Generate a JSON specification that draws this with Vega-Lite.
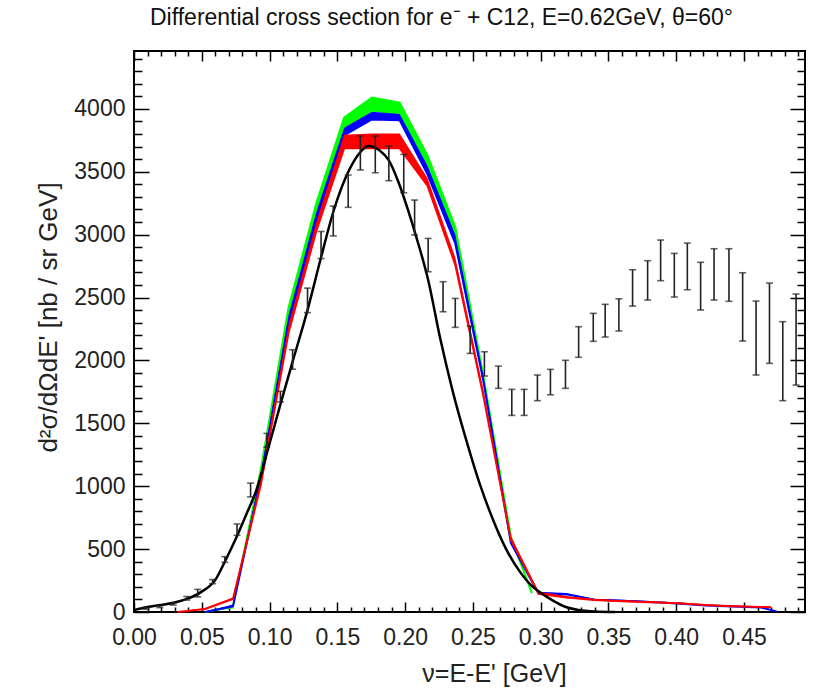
{
  "$schema": "https://vega.github.io/schema/vega-lite/v6.json",
  "width": 671,
  "height": 561,
  "autosize": "none",
  "padding": {"left": 134, "top": 51, "right": 11, "bottom": 78},
  "background": "white",
  "config": {"view": {"stroke": "black", "strokeWidth": 2}, "font": "Liberation Sans"},
  "title": {"text": "Differential cross section for e⁻ + C12, E=0.62GeV, θ=60°", "font": "Liberation Sans", "fontSize": 23, "fontWeight": "normal", "anchor": "start", "frame": "group", "dx": 16, "offset": 18, "color": "#111"},
  "resolve": {"axis": {"x": "independent", "y": "independent"}},
  "datasets": {
    "green": [
      {"x": 0.0525, "lo": 0, "hi": 0}, {"x": 0.073, "lo": 28, "hi": 45}, {"x": 0.0935, "lo": 1080, "hi": 1130},
      {"x": 0.114, "lo": 2330, "hi": 2420}, {"x": 0.1345, "lo": 3150, "hi": 3250}, {"x": 0.155, "lo": 3830, "hi": 3930},
      {"x": 0.1755, "lo": 3980, "hi": 4090}, {"x": 0.196, "lo": 3950, "hi": 4050}, {"x": 0.2165, "lo": 3550, "hi": 3630},
      {"x": 0.237, "lo": 2980, "hi": 3060}, {"x": 0.2575, "lo": 1840, "hi": 1890}, {"x": 0.278, "lo": 570, "hi": 600},
      {"x": 0.2935, "lo": 140, "hi": 150}
    ],
    "blue": [
      {"x": 0.0525, "lo": 0, "hi": 0}, {"x": 0.073, "lo": 45, "hi": 60}, {"x": 0.0935, "lo": 1060, "hi": 1100},
      {"x": 0.114, "lo": 2300, "hi": 2360}, {"x": 0.1345, "lo": 3100, "hi": 3180}, {"x": 0.155, "lo": 3790, "hi": 3850},
      {"x": 0.1755, "lo": 3916, "hi": 3977}, {"x": 0.196, "lo": 3910, "hi": 3960}, {"x": 0.2165, "lo": 3480, "hi": 3550},
      {"x": 0.237, "lo": 2930, "hi": 3000}, {"x": 0.2575, "lo": 1850, "hi": 1890}, {"x": 0.278, "lo": 550, "hi": 580},
      {"x": 0.2985, "lo": 145, "hi": 160}, {"x": 0.319, "lo": 140, "hi": 152}, {"x": 0.3395, "lo": 98, "hi": 106},
      {"x": 0.36, "lo": 90, "hi": 98}, {"x": 0.3805, "lo": 80, "hi": 88}, {"x": 0.401, "lo": 68, "hi": 76},
      {"x": 0.4215, "lo": 52, "hi": 58}, {"x": 0.442, "lo": 44, "hi": 50}, {"x": 0.4625, "lo": 36, "hi": 42},
      {"x": 0.474, "lo": 5, "hi": 10}
    ],
    "red": [
      {"x": 0.032, "lo": 0, "hi": 0}, {"x": 0.0525, "lo": 24, "hi": 32}, {"x": 0.073, "lo": 104, "hi": 116},
      {"x": 0.0935, "lo": 1010, "hi": 1050}, {"x": 0.114, "lo": 2220, "hi": 2280}, {"x": 0.1345, "lo": 3030, "hi": 3100},
      {"x": 0.155, "lo": 3686, "hi": 3795}, {"x": 0.1755, "lo": 3686, "hi": 3805}, {"x": 0.196, "lo": 3686, "hi": 3805},
      {"x": 0.2165, "lo": 3390, "hi": 3450}, {"x": 0.237, "lo": 2760, "hi": 2820}, {"x": 0.2575, "lo": 1730, "hi": 1780},
      {"x": 0.278, "lo": 575, "hi": 605}, {"x": 0.2985, "lo": 145, "hi": 160}, {"x": 0.319, "lo": 115, "hi": 128},
      {"x": 0.3395, "lo": 95, "hi": 104}, {"x": 0.36, "lo": 86, "hi": 94}, {"x": 0.3805, "lo": 78, "hi": 86},
      {"x": 0.401, "lo": 70, "hi": 78}, {"x": 0.4215, "lo": 55, "hi": 62}, {"x": 0.442, "lo": 46, "hi": 52},
      {"x": 0.4625, "lo": 40, "hi": 46}, {"x": 0.47, "lo": 38, "hi": 44}
    ],
    "black": [
      {"x": 0.0, "y": 15}, {"x": 0.01, "y": 40}, {"x": 0.02, "y": 56}, {"x": 0.03, "y": 75}, {"x": 0.04, "y": 108},
      {"x": 0.05, "y": 162}, {"x": 0.06, "y": 255}, {"x": 0.067, "y": 400}, {"x": 0.075, "y": 580}, {"x": 0.083, "y": 780},
      {"x": 0.09, "y": 960}, {"x": 0.099, "y": 1300}, {"x": 0.108, "y": 1650}, {"x": 0.117, "y": 1990}, {"x": 0.128, "y": 2400},
      {"x": 0.138, "y": 2820}, {"x": 0.147, "y": 3180}, {"x": 0.156, "y": 3450}, {"x": 0.165, "y": 3630}, {"x": 0.173, "y": 3705},
      {"x": 0.181, "y": 3670}, {"x": 0.188, "y": 3590}, {"x": 0.195, "y": 3420}, {"x": 0.202, "y": 3200}, {"x": 0.208, "y": 2990},
      {"x": 0.217, "y": 2640}, {"x": 0.226, "y": 2170}, {"x": 0.235, "y": 1760}, {"x": 0.245, "y": 1370}, {"x": 0.255, "y": 1020},
      {"x": 0.265, "y": 730}, {"x": 0.275, "y": 490}, {"x": 0.285, "y": 315}, {"x": 0.293, "y": 212}, {"x": 0.3, "y": 153},
      {"x": 0.31, "y": 85}, {"x": 0.318, "y": 42}, {"x": 0.328, "y": 16}, {"x": 0.34, "y": 4}, {"x": 0.355, "y": 0}
    ],
    "exp": [
      {"x": 0.009, "lo": 22, "hi": 36}, {"x": 0.019, "lo": 35, "hi": 50}, {"x": 0.029, "lo": 55, "hi": 73},
      {"x": 0.039, "lo": 95, "hi": 123}, {"x": 0.047, "lo": 120, "hi": 180}, {"x": 0.058, "lo": 225, "hi": 258},
      {"x": 0.067, "lo": 395, "hi": 440}, {"x": 0.076, "lo": 610, "hi": 700}, {"x": 0.086, "lo": 915, "hi": 1025},
      {"x": 0.098, "lo": 1310, "hi": 1420}, {"x": 0.108, "lo": 1670, "hi": 1755}, {"x": 0.117, "lo": 1930, "hi": 2085},
      {"x": 0.128, "lo": 2380, "hi": 2575}, {"x": 0.138, "lo": 2810, "hi": 3025}, {"x": 0.147, "lo": 2990, "hi": 3227},
      {"x": 0.158, "lo": 3217, "hi": 3474}, {"x": 0.167, "lo": 3514, "hi": 3784}, {"x": 0.178, "lo": 3492, "hi": 3784},
      {"x": 0.188, "lo": 3429, "hi": 3704}, {"x": 0.199, "lo": 3333, "hi": 3638}, {"x": 0.207, "lo": 2997, "hi": 3275},
      {"x": 0.217, "lo": 2705, "hi": 2970}, {"x": 0.228, "lo": 2387, "hi": 2626}, {"x": 0.237, "lo": 2263, "hi": 2493},
      {"x": 0.248, "lo": 2056, "hi": 2273}, {"x": 0.2585, "lo": 1876, "hi": 2069}, {"x": 0.2688, "lo": 1778, "hi": 1955},
      {"x": 0.2787, "lo": 1563, "hi": 1770}, {"x": 0.2878, "lo": 1563, "hi": 1770}, {"x": 0.2976, "lo": 1680, "hi": 1884},
      {"x": 0.3072, "lo": 1727, "hi": 1929}, {"x": 0.3183, "lo": 1778, "hi": 2001}, {"x": 0.328, "lo": 2025, "hi": 2268},
      {"x": 0.3388, "lo": 2152, "hi": 2374}, {"x": 0.3476, "lo": 2186, "hi": 2446}, {"x": 0.3577, "lo": 2234, "hi": 2490},
      {"x": 0.3678, "lo": 2432, "hi": 2721}, {"x": 0.3789, "lo": 2480, "hi": 2793}, {"x": 0.3885, "lo": 2634, "hi": 2957},
      {"x": 0.3986, "lo": 2504, "hi": 2851}, {"x": 0.4082, "lo": 2562, "hi": 2933}, {"x": 0.418, "lo": 2401, "hi": 2780},
      {"x": 0.4279, "lo": 2480, "hi": 2888}, {"x": 0.4389, "lo": 2470, "hi": 2888}, {"x": 0.449, "lo": 2154, "hi": 2697},
      {"x": 0.4589, "lo": 1884, "hi": 2472}, {"x": 0.4688, "lo": 1977, "hi": 2615}, {"x": 0.4786, "lo": 1680, "hi": 2308},
      {"x": 0.4884, "lo": 1804, "hi": 2528}
    ]
  },
  "layer": [
    {
      "data": {"name": "green"},
      "mark": {"type": "area", "color": "#00ff00", "opacity": 1},
      "encoding": {
        "x": {"field": "x", "type": "quantitative", "scale": {"domain": [0, 0.495], "nice": false, "zero": false},
          "axis": {"orient": "bottom", "title": "ν=E-E' [GeV]", "values": [0,0.01,0.02,0.03,0.04,0.05,0.06,0.07,0.08,0.09,0.1,0.11,0.12,0.13,0.14,0.15,0.16,0.17,0.18,0.19,0.2,0.21,0.22,0.23,0.24,0.25,0.26,0.27,0.28,0.29,0.3,0.31,0.32,0.33,0.34,0.35,0.36,0.37,0.38,0.39,0.4,0.41,0.42,0.43,0.44,0.45,0.46,0.47,0.48,0.49],
            "labelExpr": "round(datum.value*100) % 5 == 0 ? format(datum.value, '.2f') : ''",
            "tickSize": {"condition": {"test": "round(datum.value*100) % 5 == 0", "value": -10}, "value": -5},
            "tickColor": "black", "tickWidth": 1.5, "domain": false, "grid": false,
            "labelFont": "Liberation Sans", "labelFontSize": 23, "labelColor": "#222", "labelPadding": 24, "labelOverlap": false, "labelFlush": false,
            "titleFont": "Liberation Sans", "titleFontSize": 25, "titleFontWeight": "normal", "titleColor": "#222", "titlePadding": 7, "titleX": 360}},
        "y": {"field": "lo", "type": "quantitative", "scale": {"domain": [0, 4460], "nice": false, "zero": false},
          "axis": {"orient": "left", "title": "d²σ/dΩdE' [nb / sr GeV]", "values": [0,100,200,300,400,500,600,700,800,900,1000,1100,1200,1300,1400,1500,1600,1700,1800,1900,2000,2100,2200,2300,2400,2500,2600,2700,2800,2900,3000,3100,3200,3300,3400,3500,3600,3700,3800,3900,4000,4100,4200,4300,4400],
            "labelExpr": "datum.value % 500 == 0 ? format(datum.value, 'd') : ''",
            "tickSize": {"condition": {"test": "datum.value % 500 == 0", "value": -15}, "value": -8},
            "tickColor": "black", "tickWidth": 1.5, "domain": false, "grid": false,
            "labelFont": "Liberation Sans", "labelFontSize": 23, "labelColor": "#222", "labelPadding": 24, "labelOverlap": false, "labelFlush": false,
            "titleFont": "Liberation Sans", "titleFontSize": 26, "titleFontWeight": "normal", "titleColor": "#222", "titlePadding": 12, "titleY": 266}},
        "y2": {"field": "hi"}
      }
    },
    {
      "data": {"name": "green"},
      "mark": {"type": "line", "color": "#00ff00", "strokeWidth": 2},
      "encoding": {"x": {"field": "x", "type": "quantitative", "axis": null}, "y": {"field": "hi", "type": "quantitative", "axis": null}}
    },
    {
      "data": {"name": "blue"},
      "mark": {"type": "area", "color": "#0000ff", "opacity": 1},
      "encoding": {"x": {"field": "x", "type": "quantitative", "axis": null}, "y": {"field": "lo", "type": "quantitative", "axis": null}, "y2": {"field": "hi"}}
    },
    {
      "data": {"name": "blue"},
      "mark": {"type": "line", "color": "#0000ff", "strokeWidth": 2},
      "encoding": {"x": {"field": "x", "type": "quantitative", "axis": null}, "y": {"field": "lo", "type": "quantitative", "axis": null}}
    },
    {
      "data": {"name": "red"},
      "mark": {"type": "area", "color": "#ff0000", "opacity": 1},
      "encoding": {"x": {"field": "x", "type": "quantitative", "axis": null}, "y": {"field": "lo", "type": "quantitative", "axis": null}, "y2": {"field": "hi"}}
    },
    {
      "data": {"name": "red"},
      "mark": {"type": "line", "color": "#ff0000", "strokeWidth": 2},
      "encoding": {"x": {"field": "x", "type": "quantitative", "axis": null}, "y": {"field": "lo", "type": "quantitative", "axis": null}}
    },
    {
      "data": {"name": "black"},
      "mark": {"type": "line", "color": "black", "strokeWidth": 2.5, "interpolate": "monotone"},
      "encoding": {
        "x": {"field": "x", "type": "quantitative",
          "axis": {"orient": "top", "title": null, "labels": false, "domain": false, "grid": false, "tickColor": "black", "tickWidth": 1.5,
            "values": [0,0.01,0.02,0.03,0.04,0.05,0.06,0.07,0.08,0.09,0.1,0.11,0.12,0.13,0.14,0.15,0.16,0.17,0.18,0.19,0.2,0.21,0.22,0.23,0.24,0.25,0.26,0.27,0.28,0.29,0.3,0.31,0.32,0.33,0.34,0.35,0.36,0.37,0.38,0.39,0.4,0.41,0.42,0.43,0.44,0.45,0.46,0.47,0.48,0.49],
            "tickSize": {"condition": {"test": "round(datum.value*100) % 5 == 0", "value": -10}, "value": -5}}},
        "y": {"field": "y", "type": "quantitative",
          "axis": {"orient": "right", "title": null, "labels": false, "domain": false, "grid": false, "tickColor": "black", "tickWidth": 1.5,
            "values": [0,100,200,300,400,500,600,700,800,900,1000,1100,1200,1300,1400,1500,1600,1700,1800,1900,2000,2100,2200,2300,2400,2500,2600,2700,2800,2900,3000,3100,3200,3300,3400,3500,3600,3700,3800,3900,4000,4100,4200,4300,4400],
            "tickSize": {"condition": {"test": "datum.value % 500 == 0", "value": -15}, "value": -8}}}
      }
    },
    {
      "data": {"name": "exp"},
      "mark": {"type": "errorbar", "color": "#222", "thickness": 1.6, "ticks": {"size": 7, "color": "#222", "strokeWidth": 1.6}},
      "encoding": {"x": {"field": "x", "type": "quantitative", "axis": null}, "y": {"field": "lo", "type": "quantitative", "axis": null}, "y2": {"field": "hi"}}
    }
  ]
}
